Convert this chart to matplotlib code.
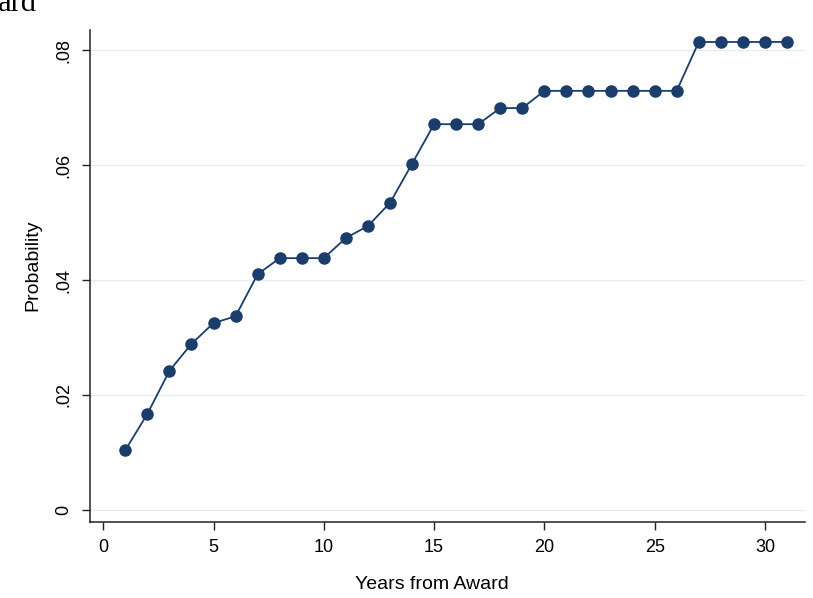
import numpy as np
import matplotlib.pyplot as plt
from matplotlib.ticker import FuncFormatter

# cumulative probability by year since award
years = np.arange(1, 32)
prob = [0.0104, 0.0167, 0.0242, 0.0289, 0.0325, 0.0337, 0.0410, 0.0438, 0.0438, 0.0438,
        0.0473, 0.0494, 0.0534, 0.0602, 0.0671, 0.0671, 0.0671, 0.0699, 0.0699, 0.0729,
        0.0729, 0.0729, 0.0729, 0.0729, 0.0729, 0.0729, 0.0814, 0.0814, 0.0814, 0.0814,
        0.0814]
yticks = [0, 0.02, 0.04, 0.06, 0.08]
xticks = [0, 5, 10, 15, 20, 25, 30]

plt.rcParams['font.family'] = ['Liberation Sans', 'DejaVu Sans']

fig = plt.figure(figsize=(8.13, 5.98), dpi=100)
ax = fig.add_axes([0.1107, 0.127, 0.879, 0.823])

ax.plot(years, prob, color='#1a3d6b', lw=1.3, marker='o', ms=8,
        markerfacecolor='#1a3d6b', markeredgecolor='#1a3d6b', zorder=3)

ax.set_xlim(-0.6, 31.8)
ax.set_ylim(-0.0021, 0.0835)
ax.set_xticks(xticks)
ax.set_yticks(yticks)

def fmt(v, pos):
    if v == 0:
        return '0'
    return ('%.2f' % v).lstrip('0')

ax.yaxis.set_major_formatter(FuncFormatter(fmt))
ax.grid(axis='y', color='#e6edf0', lw=1)
ax.set_axisbelow(True)

for s in ['top', 'right']:
    ax.spines[s].set_visible(False)
for s in ['left', 'bottom']:
    ax.spines[s].set_color('#222222')
    ax.spines[s].set_linewidth(1.1)

ax.tick_params(axis='both', direction='out', length=6, width=1, color='#222222',
               labelsize=13)
ax.tick_params(axis='x', pad=6)
ax.tick_params(axis='y', pad=7)
for lbl in ax.get_yticklabels():
    lbl.set_rotation(90)
    lbl.set_va('center')

ax.set_xlabel('Years from Award', fontsize=14)
ax.set_ylabel('Probability', fontsize=14)
ax.xaxis.set_label_coords(0.478, -0.126)
ax.xaxis.label.set_va('center')
ax.yaxis.set_label_coords(-0.0797, 0.522)
ax.yaxis.label.set_va('center')

# fragment of the caption above the figure
fig.text(-0.002, 0.982, 'ard', family='Liberation Serif', fontsize=22,
         va='baseline', ha='left')

fig.savefig('out.png', dpi=100)
